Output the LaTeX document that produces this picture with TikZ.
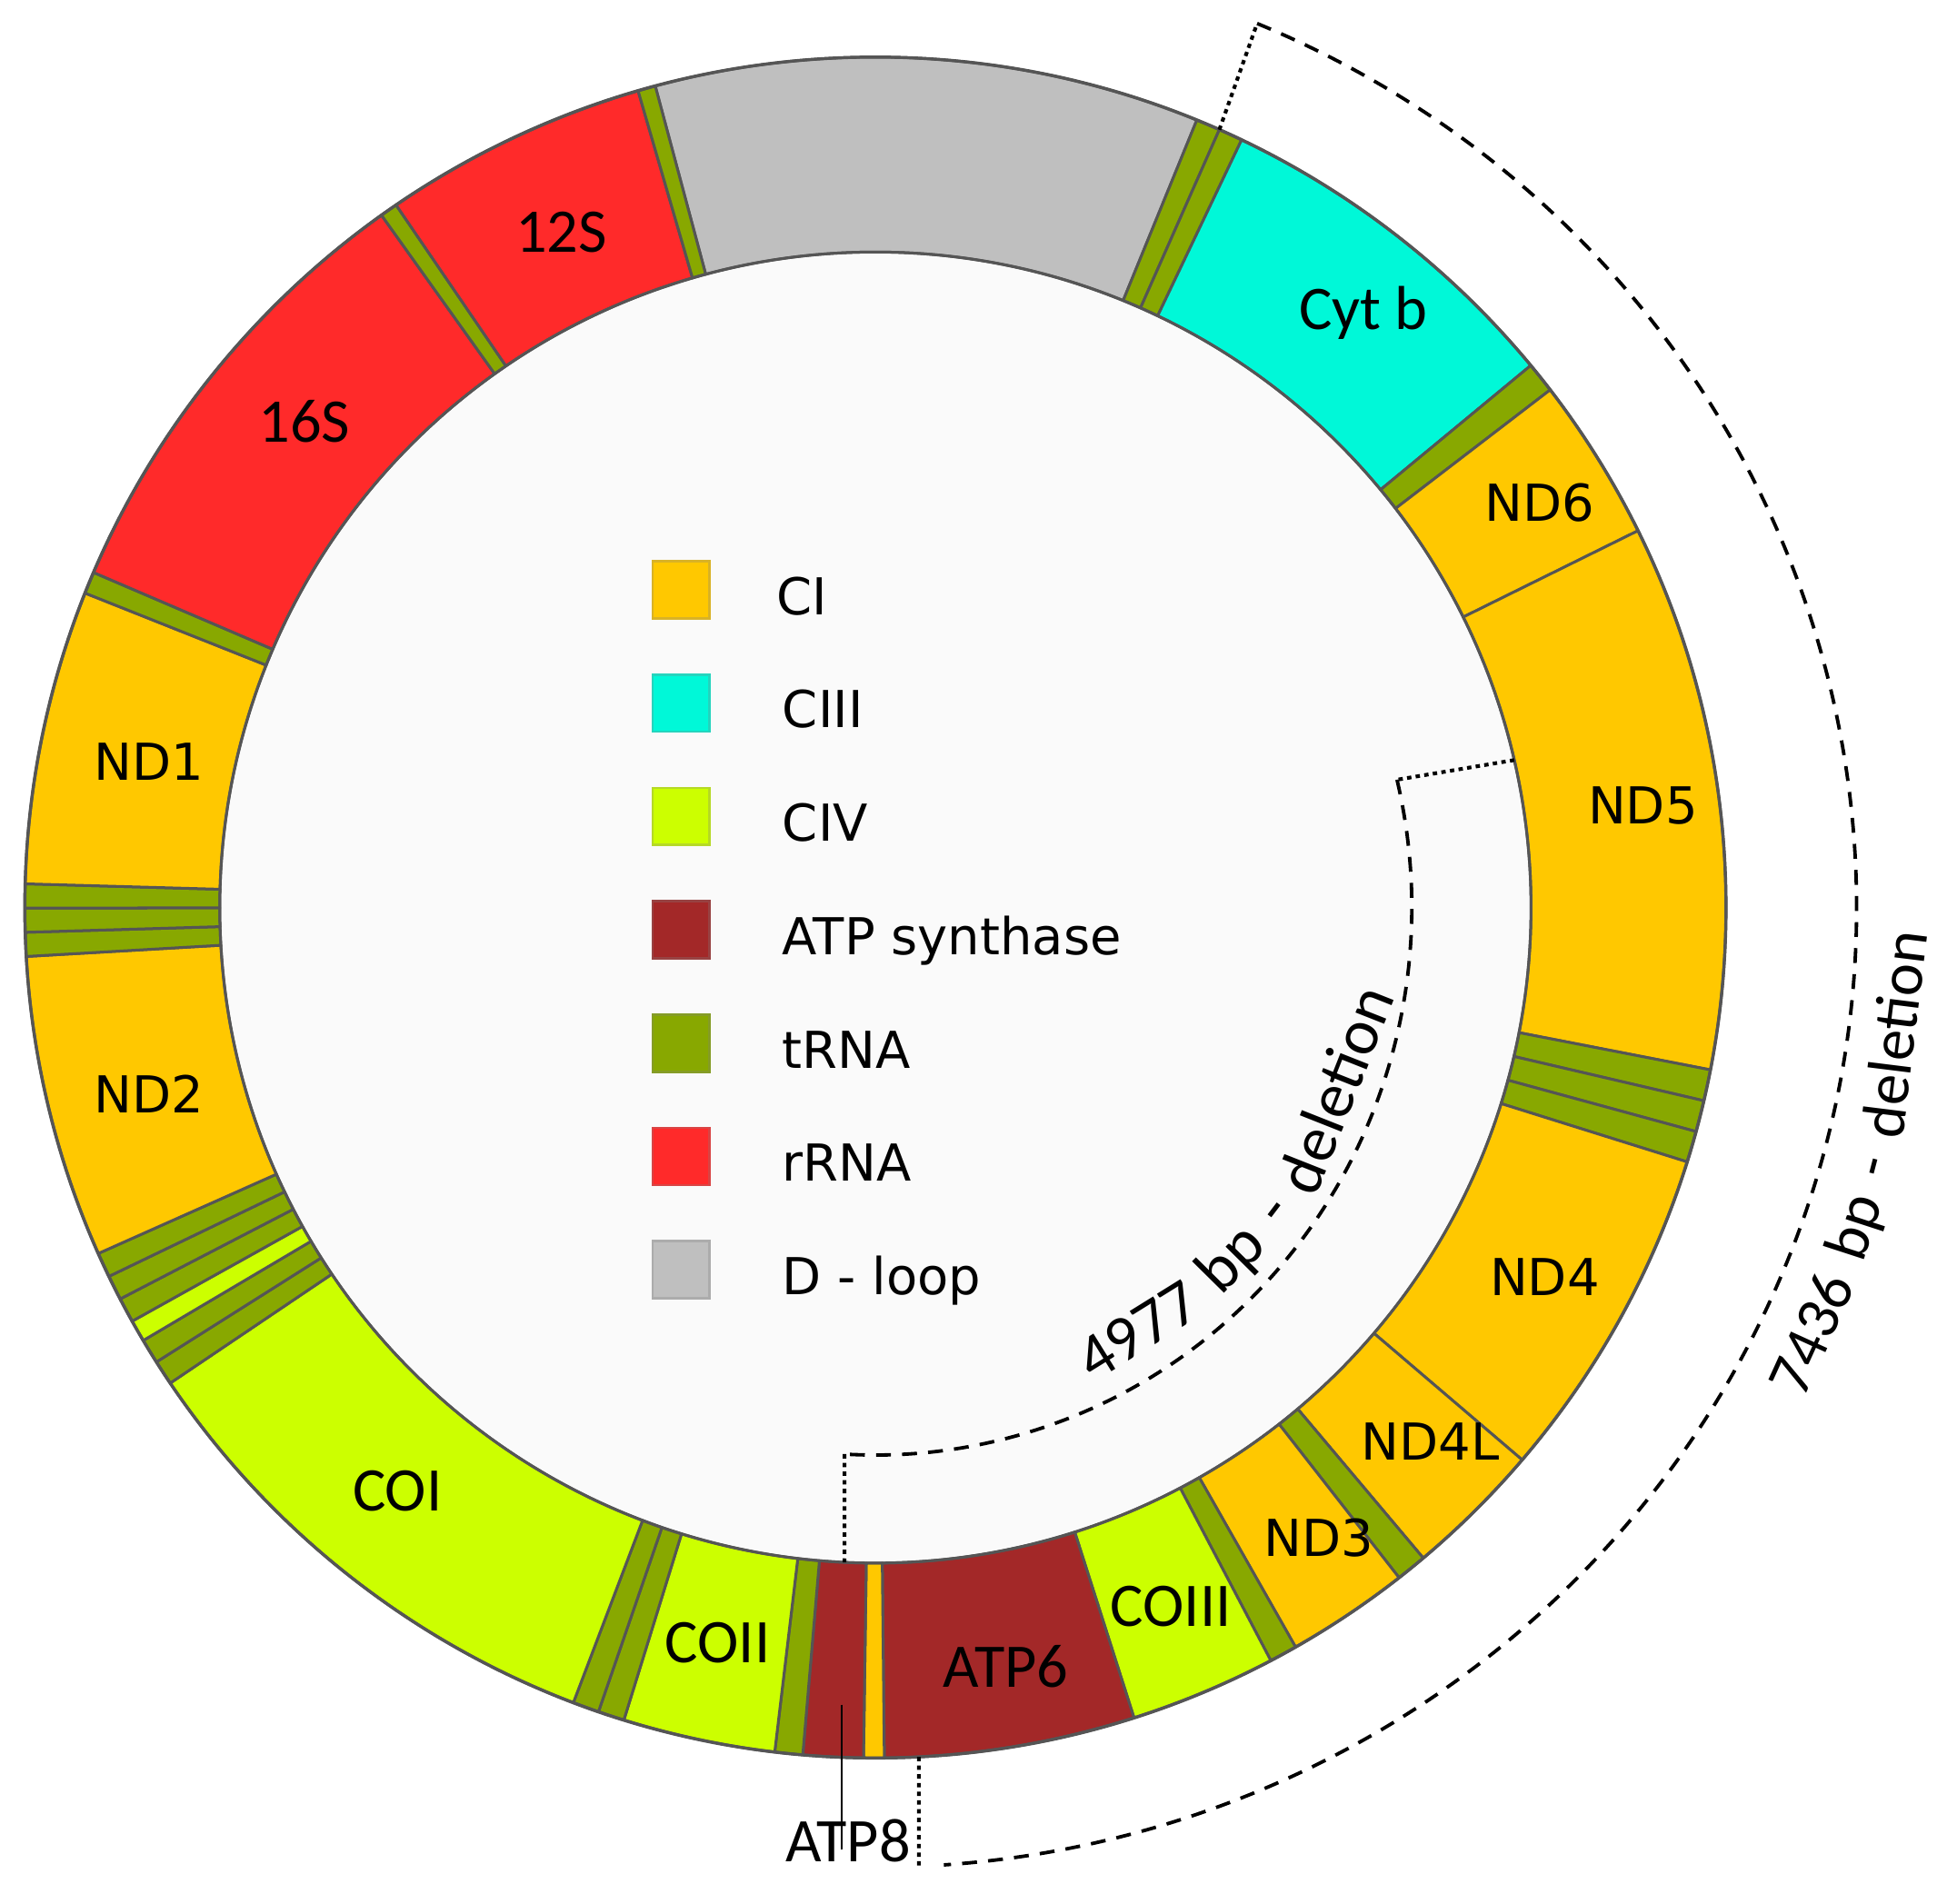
\documentclass[tikz,border=0pt]{standalone}
\usepackage{fontspec}
\newfontfamily\carl{Carlito}
\newfontfamily\dvs{DejaVu Sans}
\definecolor{cCI}{RGB}{255,200,0}
\definecolor{cCIII}{RGB}{0,248,216}
\definecolor{cCIV}{RGB}{204,255,0}
\definecolor{cATP}{RGB}{163,40,40}
\definecolor{cTRNA}{RGB}{136,168,0}
\definecolor{cRRNA}{RGB}{255,42,42}
\definecolor{cDL}{RGB}{191,191,191}
\definecolor{cIn}{RGB}{250,250,250}
\definecolor{segline}{RGB}{85,85,85}
\newcommand\rseg[3]{\filldraw[ringseg,fill=#3] ({90-(#1)}:685) arc[start angle={90-(#1)},end angle={90-(#2)},radius=685] -- ({90-(#2)}:528) arc[start angle={90-(#2)},end angle={90-(#1)},radius=528] -- cycle;}
\begin{document}
\begin{tikzpicture}[x=1pt,y=1pt,
  ringseg/.style={draw=segline,line width=2.2pt,line join=round},
  cl/.style={font=\carl\fontsize{50}{60}\selectfont, text height=0.64em, text depth=0pt, inner sep=0pt},
  dl/.style={font=\dvs\fontsize{41}{49}\selectfont, text height=0.73em, text depth=0pt, inner sep=0pt},
  legsq/.style={minimum width=46pt, minimum height=46pt, inner sep=0pt, line width=2pt},
  legtxt/.style={font=\dvs\fontsize{41}{49}\selectfont, anchor=base west, inner sep=0pt},
  delA/.style={font=\carl\fontsize{52}{60}\selectfont, anchor=base, inner sep=0pt},
  delB/.style={font=\carl\fontsize{50}{60}\selectfont, anchor=base, inner sep=0pt},
  dotline/.style={line width=3pt, dash pattern=on 3.5pt off 3.5pt},
  dashline/.style={line width=2.8pt, dash pattern=on 12pt off 9pt},
  leader/.style={line width=1.5pt}]
\useasboundingbox (0,0) rectangle (1568,1533);
\begin{scope}[shift={(705,802)}]
  \fill[cIn] (0,0) circle[radius=528];
  \rseg{-15}{22.2}{cDL}
  \rseg{22.2}{23.85}{cTRNA}
  \rseg{23.85}{25.5}{cTRNA}
  \rseg{25.5}{50.4}{cCIII}
  \rseg{50.4}{52.5}{cTRNA}
  \rseg{52.5}{63.7}{cCI}
  \rseg{63.7}{101}{cCI}
  \rseg{101}{103.13}{cTRNA}
  \rseg{103.13}{105.27}{cTRNA}
  \rseg{105.27}{107.4}{cTRNA}
  \rseg{107.4}{130.5}{cCI}
  \rseg{130.5}{139.9}{cCI}
  \rseg{139.9}{142.0}{cTRNA}
  \rseg{142.0}{150.4}{cCI}
  \rseg{150.4}{152.3}{cTRNA}
  \rseg{152.3}{162.3}{cCIV}
  \rseg{162.3}{179.4}{cATP}
  \rseg{179.4}{180.8}{cCI}
  \rseg{180.8}{184.9}{cATP}
  \rseg{184.9}{186.8}{cTRNA}
  \rseg{186.8}{197.2}{cCIV}
  \rseg{197.2}{199.0}{cTRNA}
  \rseg{199.0}{200.8}{cTRNA}
  \rseg{200.8}{236}{cCIV}
  \rseg{236}{237.7}{cTRNA}
  \rseg{237.7}{239.4}{cTRNA}
  \rseg{239.4}{240.9}{cCIV}
  \rseg{240.9}{242.6}{cTRNA}
  \rseg{242.6}{244.3}{cTRNA}
  \rseg{244.3}{246}{cTRNA}
  \rseg{246}{266.7}{cCI}
  \rseg{266.7}{268.33}{cTRNA}
  \rseg{268.33}{269.97}{cTRNA}
  \rseg{269.97}{271.6}{cTRNA}
  \rseg{271.6}{291.7}{cCI}
  \rseg{291.7}{293.2}{cTRNA}
  \rseg{293.2}{324.5}{cRRNA}
  \rseg{324.5}{325.7}{cTRNA}
  \rseg{325.7}{343.8}{cRRNA}
  \rseg{343.8}{345}{cTRNA}
  \draw[segline,line width=2.5pt] (0,0) circle[radius=685];
  \draw[segline,line width=2.2pt] (0,0) circle[radius=528];
  % 7436 bp deletion
  \coordinate (d7a) at ({90-23.85}:685);
  \coordinate (d7b) at (67.1:790 and 773);
  \coordinate (d7c) at (-87.46:790 and 773);
  \coordinate (d7d) at (35,-684.1);
  \draw[dotline] (d7a) -- (d7b);
  \draw[dashline] (d7b) arc[start angle=67.1,end angle=-86,x radius=790,y radius=773];
  \draw[dotline] (d7d) -- (d7c);
  % 4977 bp deletion
  \coordinate (d4a) at (13:528);
  \coordinate (d4b) at (13.5:432 and 441);
  \coordinate (d4c) at (-93.3:432 and 441);
  \coordinate (d4d) at (-24.9,-527.4);
  \draw[dotline] (d4a) -- (d4b);
  \draw[dashline] (d4b) arc[start angle=13.5,end angle=-93.3,x radius=432,y radius=441];
  \draw[dotline] (d4c) -- (d4d);
  % labels of the deletions, word by word along the arcs
  \node[delA,rotate=31.83] (a1) at (-58.17:418) {4977};
  \node[delA,rotate=45.36] (a2) at (-44.64:418) {bp};
  \node[delA,rotate=52.76] (a3) at (-37.24:418) {-};
  \node[delA,rotate=68.42] (a4) at (-21.58:416) {deletion};
  \node[delB,rotate=65.52] (b1) at (-24.48:845) {7436};
  \node[delB,rotate=71.96] (b2) at (-18.04:845) {bp};
  \node[delB,rotate=75.47] (b3) at (-14.53:845) {-};
  \node[delB,rotate=82.92] (b4) at (-7.08:844) {deletion};
\end{scope}
% ring labels
\node[cl] (l12S) at (452,1333) {12S};
\node[cl] (l16S) at (245,1180) {16S};
\node[cl] (lCytb) at (1098,1271) {Cyt b};
\node[dl] (lND6) at (1240,1117) {ND6};
\node[dl] (lND5) at (1323,873) {ND5};
\node[dl] (lND4) at (1244,493) {ND4};
\node[dl] (lND4L) at (1152,361) {ND4L};
\node[dl] (lND3) at (1062,283) {ND3};
\node[cl] (lCOIII) at (943,226) {COIII};
\node[cl] (lATP6) at (810,177) {ATP6};
\node[cl] (lCOII) at (578,197) {COII};
\node[cl] (lCOI) at (320,319) {COI};
\node[dl] (lND1) at (120,908) {ND1};
\node[dl] (lND2) at (120,640) {ND2};
\node[cl,inner sep=3pt] (lATP8) at (683,37) {ATP8};
\coordinate (atp8pt) at (678,160);
\draw[leader] (atp8pt) -- (atp8pt |- lATP8.north);
% legend
\node[legsq,fill=cCI,draw=cCI!70!gray] (sq1) at (548.5,1058) {};
\node[legsq,fill=cCIII,draw=cCIII!70!gray] (sq2) at (548.5,966.7) {};
\node[legsq,fill=cCIV,draw=cCIV!70!gray] (sq3) at (548.5,875.4) {};
\node[legsq,fill=cATP,draw=cATP!70!gray] (sq4) at (548.5,784.1) {};
\node[legsq,fill=cTRNA,draw=cTRNA!70!gray] (sq5) at (548.5,692.8) {};
\node[legsq,fill=cRRNA,draw=cRRNA!70!gray] (sq6) at (548.5,601.5) {};
\node[legsq,fill=cDL,draw=cDL!70!gray] (sq7) at (548.5,510.2) {};
\node[legtxt] (t1) at (625,1038) {CI};
\node[legtxt] (t2) at (630,946.7) {CIII};
\node[legtxt] (t3) at (630,855.4) {CIV};
\node[legtxt] (t4) at (630,764.1) {ATP synthase};
\node[legtxt] (t5) at (630,672.8) {tRNA};
\node[legtxt] (t6) at (630,581.5) {rRNA};
\node[legtxt] (t7) at (630,490.2) {D - loop};
\end{tikzpicture}
\end{document}
